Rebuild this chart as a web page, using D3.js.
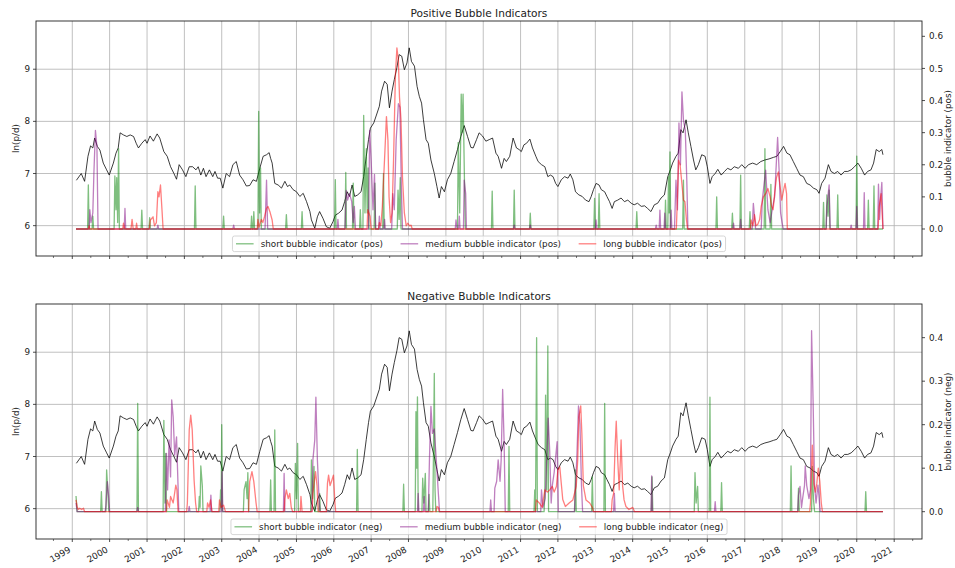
<!DOCTYPE html>
<html>
<head>
<meta charset="utf-8">
<script src="https://cdn.jsdelivr.net/npm/d3@7/dist/d3.min.js"></script>
<style>
  body { margin: 0; background: #fff; }
  text { font-family: "DejaVu Sans", sans-serif; fill: #222; }
</style>
</head>
<body>
<svg id="chart" width="955" height="568"></svg>
<script>
// ln(p/d), [decimal year, value]
var lnpd = [
  [1999.11,6.87],[1999.24,7.0],[1999.33,6.85],[1999.42,7.33],[1999.49,7.53],[1999.55,7.49],[1999.6,7.68],[1999.67,7.52],
  [1999.74,7.45],[1999.83,7.2],[1999.92,7.07],[1999.99,6.97],[2000.1,7.2],[2000.17,7.39],[2000.23,7.49],[2000.28,7.78],
  [2000.37,7.74],[2000.46,7.71],[2000.55,7.74],[2000.64,7.71],[2000.71,7.58],[2000.77,7.49],[2000.86,7.58],[2000.95,7.65],
  [2001.0,7.58],[2001.08,7.72],[2001.17,7.62],[2001.27,7.76],[2001.34,7.68],[2001.45,7.42],[2001.54,7.33],[2001.63,7.13],
  [2001.72,7.0],[2001.79,6.89],[2001.86,7.17],[2001.95,7.07],[2002.04,6.94],[2002.13,7.13],[2002.22,7.13],[2002.31,7.07],
  [2002.37,7.13],[2002.44,6.97],[2002.51,7.1],[2002.58,6.94],[2002.67,7.07],[2002.76,6.94],[2002.82,7.04],[2002.89,6.91],
  [2002.96,6.91],[2003.03,6.72],[2003.12,7.0],[2003.21,6.94],[2003.3,7.17],[2003.39,7.23],[2003.48,6.97],[2003.57,6.88],
  [2003.66,6.76],[2003.75,6.77],[2003.84,6.88],[2003.93,6.85],[2004.02,7.1],[2004.11,7.33],[2004.2,7.36],[2004.27,7.4],
  [2004.31,7.29],[2004.35,7.2],[2004.42,6.81],[2004.51,6.78],[2004.6,6.72],[2004.69,6.85],[2004.76,6.75],[2004.82,6.78],
  [2004.91,6.69],[2005.0,6.65],[2005.09,6.56],[2005.18,6.62],[2005.27,6.46],[2005.36,6.27],[2005.4,6.11],[2005.49,5.95],
  [2005.56,6.17],[2005.62,6.27],[2005.71,6.14],[2005.8,5.98],[2005.89,5.95],[2005.98,6.08],[2006.04,6.2],[2006.13,6.24],
  [2006.22,6.3],[2006.29,6.46],[2006.36,6.65],[2006.42,6.56],[2006.49,6.78],[2006.56,6.56],[2006.64,6.59],[2006.73,6.65],
  [2006.8,6.94],[2006.87,7.33],[2006.93,7.65],[2006.98,7.87],[2007.07,7.97],[2007.16,8.16],[2007.22,8.29],[2007.28,8.58],
  [2007.36,8.77],[2007.43,8.71],[2007.49,8.26],[2007.56,8.58],[2007.62,8.8],[2007.69,9.03],[2007.75,9.28],[2007.82,9.25],
  [2007.89,8.99],[2007.96,9.12],[2008.02,9.41],[2008.08,9.15],[2008.16,9.06],[2008.23,8.67],[2008.29,8.48],[2008.35,8.35],
  [2008.4,8.03],[2008.47,7.65],[2008.53,7.58],[2008.6,7.26],[2008.69,7.0],[2008.76,6.75],[2008.82,6.53],[2008.88,6.75],
  [2008.96,6.65],[2009.04,6.88],[2009.13,7.0],[2009.22,7.23],[2009.31,7.46],[2009.4,7.71],[2009.49,7.92],[2009.58,7.71],
  [2009.67,7.5],[2009.73,7.49],[2009.82,7.65],[2009.89,7.78],[2009.98,7.72],[2010.07,7.62],[2010.16,7.65],[2010.25,7.68],
  [2010.34,7.39],[2010.4,7.33],[2010.49,7.1],[2010.56,7.29],[2010.62,7.23],[2010.71,7.33],[2010.8,7.68],[2010.89,7.49],
  [2010.96,7.46],[2011.02,7.42],[2011.09,7.55],[2011.16,7.58],[2011.25,7.66],[2011.32,7.49],[2011.41,7.33],[2011.47,7.23],
  [2011.56,7.17],[2011.65,7.13],[2011.73,6.94],[2011.8,6.97],[2011.87,6.94],[2011.94,6.81],[2012.0,6.75],[2012.09,6.88],
  [2012.18,6.94],[2012.27,6.91],[2012.33,6.99],[2012.4,6.88],[2012.47,6.65],[2012.56,6.59],[2012.65,6.56],[2012.74,6.49],
  [2012.83,6.46],[2012.89,6.56],[2012.95,6.69],[2013.02,6.81],[2013.1,6.78],[2013.16,6.69],[2013.25,6.65],[2013.31,6.56],
  [2013.38,6.46],[2013.45,6.33],[2013.51,6.46],[2013.6,6.49],[2013.69,6.53],[2013.78,6.46],[2013.87,6.49],[2013.96,6.43],
  [2014.04,6.4],[2014.13,6.43],[2014.23,6.37],[2014.32,6.38],[2014.4,6.33],[2014.49,6.27],[2014.58,6.4],[2014.67,6.43],
  [2014.76,6.53],[2014.85,6.59],[2014.94,6.94],[2015.01,7.07],[2015.07,7.2],[2015.16,7.33],[2015.22,7.39],[2015.29,7.84],
  [2015.35,7.78],[2015.43,8.03],[2015.49,7.78],[2015.56,7.52],[2015.63,7.26],[2015.69,7.07],[2015.76,7.17],[2015.85,7.36],
  [2015.94,7.33],[2016.0,7.13],[2016.07,6.81],[2016.13,6.94],[2016.21,7.0],[2016.28,7.08],[2016.37,6.97],[2016.46,7.04],
  [2016.54,7.1],[2016.63,7.07],[2016.72,7.13],[2016.83,7.1],[2016.92,7.17],[2017.01,7.1],[2017.1,7.17],[2017.21,7.2],
  [2017.32,7.17],[2017.43,7.23],[2017.54,7.26],[2017.65,7.28],[2017.77,7.31],[2017.86,7.33],[2017.95,7.42],[2018.04,7.52],
  [2018.13,7.39],[2018.21,7.36],[2018.3,7.23],[2018.39,7.1],[2018.48,6.97],[2018.57,6.94],[2018.66,6.81],[2018.75,6.78],
  [2018.84,6.72],[2018.93,6.69],[2018.99,6.62],[2019.06,6.81],[2019.15,6.91],[2019.24,7.17],[2019.31,7.04],[2019.4,7.0],
  [2019.49,7.04],[2019.58,6.97],[2019.67,7.04],[2019.76,7.04],[2019.85,7.07],[2019.94,7.13],[2020.03,7.2],[2020.12,7.1],
  [2020.21,6.97],[2020.29,7.04],[2020.38,7.07],[2020.45,7.2],[2020.52,7.46],[2020.6,7.42],[2020.67,7.46],[2020.7,7.36]
]

// positive bubble indicators
var posShort = [
  [1999.1,0],[1999.41,0],[1999.43,0.137],[1999.45,0],[1999.53,0],[1999.55,0.04],[1999.57,0],
  [2000.12,0],[2000.14,0.165],[2000.17,0.06],[2000.19,0.16],[2000.215,0.02],[2000.24,0.25],[2000.26,0],
  [2000.84,0],[2000.86,0.059],[2000.88,0],[2001.05,0],[2001.07,0.035],[2001.09,0],
  [2002.27,0],[2002.29,0.134],[2002.31,0],[2003.03,0],[2003.05,0.04],[2003.07,0],
  [2003.78,0],[2003.8,0.04],[2003.82,0],[2003.84,0],[2003.86,0.054],[2003.88,0],
  [2003.97,0],[2003.99,0.366],[2004.015,0.05],[2004.04,0.19],[2004.06,0],
  [2004.71,0],[2004.73,0.045],[2004.75,0],[2005.13,0],[2005.15,0.054],[2005.17,0],
  [2006.02,0],[2006.04,0.154],[2006.06,0],[2006.3,0],[2006.32,0.176],[2006.34,0],
  [2006.5,0],[2006.52,0.143],[2006.54,0],[2006.69,0],[2006.71,0.06],[2006.73,0],
  [2006.78,0],[2006.8,0.354],[2006.835,0.05],[2006.87,0.25],[2006.895,0.05],[2006.92,0.19],[2006.94,0],
  [2007.08,0],[2007.1,0.143],[2007.12,0],[2007.31,0],[2007.33,0.172],[2007.35,0],
  [2007.7,0],[2007.72,0.121],[2007.75,0.03],[2007.78,0.16],[2007.8,0],
  [2009.31,0],[2009.33,0.27],[2009.37,0.05],[2009.41,0.42],[2009.43,0.3],[2009.46,0.42],[2009.5,0.13],[2009.52,0],
  [2010.22,0],[2010.24,0.118],[2010.26,0],[2010.81,0],[2010.83,0.121],[2010.85,0],
  [2011.24,0],[2011.26,0.049],[2011.28,0],[2012.96,0],[2012.98,0.095],[2013.0,0],
  [2013.08,0],[2013.1,0.11],[2013.12,0],[2014.09,0],[2014.11,0.054],[2014.13,0],
  [2014.86,0],[2014.88,0.09],[2014.9,0],[2014.94,0],[2014.96,0.163],[2014.98,0.05],[2015.0,0.24],[2015.02,0],
  [2015.34,0],[2015.36,0.152],[2015.38,0],[2016.23,0],[2016.25,0.1],[2016.27,0],
  [2016.65,0],[2016.67,0.049],[2016.69,0],[2016.87,0],[2016.89,0.168],[2016.91,0],
  [2017.12,0],[2017.14,0.054],[2017.16,0],[2017.52,0],[2017.54,0.25],[2017.56,0],
  [2017.68,0],[2017.7,0.139],[2017.72,0],[2019.09,0],[2019.11,0.083],[2019.13,0],
  [2019.18,0],[2019.2,0.106],[2019.23,0.04],[2019.26,0.121],[2019.28,0],[2019.47,0],[2019.49,0.106],[2019.51,0],
  [2019.98,0],[2020.0,0.227],[2020.02,0],[2020.29,0],[2020.31,0.09],[2020.33,0],
  [2020.44,0],[2020.46,0.134],[2020.48,0],[2020.7,0]
]
var posMedium = [
  [1999.1,0],[1999.45,0],[1999.47,0.06],[1999.5,0.02],[1999.55,0.05],[1999.58,0.178],[1999.62,0.307],[1999.66,0.256],[1999.69,0],
  [2000.39,0],[2000.41,0.064],[2000.43,0],[2001.27,0],[2001.29,0.012],[2001.31,0],
  [2003.3,0],[2003.32,0.012],[2003.34,0],[2004.16,0],[2004.2,0.152],[2004.23,0],
  [2006.09,0],[2006.11,0.03],[2006.13,0],
  [2006.3,0],[2006.33,0.12],[2006.37,0.09],[2006.42,0.11],[2006.48,0.085],[2006.52,0.02],[2006.55,0.07],[2006.58,0],
  [2006.93,0],[2006.96,0.307],[2007.0,0.214],[2007.05,0.06],[2007.09,0.17],[2007.12,0],
  [2007.2,0],[2007.22,0.04],[2007.24,0],[2007.34,0],[2007.36,0.03],[2007.38,0],
  [2007.55,0],[2007.58,0.11],[2007.62,0.06],[2007.67,0.276],[2007.73,0.39],[2007.77,0.38],[2007.81,0.13],[2007.84,0],
  [2009.25,0],[2009.27,0.028],[2009.3,0],[2009.34,0],[2009.36,0.04],[2009.38,0],
  [2009.47,0],[2009.49,0.152],[2009.53,0.11],[2009.55,0],
  [2010.81,0],[2010.83,0.012],[2010.85,0],[2011.24,0],[2011.26,0.012],[2011.28,0],
  [2013.0,0],[2013.02,0.028],[2013.04,0],[2014.61,0],[2014.63,0.012],[2014.65,0],
  [2014.71,0],[2014.73,0.059],[2014.75,0],[2014.84,0],[2014.86,0.049],[2014.88,0],
  [2015.01,0],[2015.03,0.059],[2015.05,0],
  [2015.12,0],[2015.16,0.152],[2015.2,0.06],[2015.24,0.33],[2015.28,0.2],[2015.32,0.427],[2015.36,0.34],[2015.41,0.307],[2015.45,0.152],[2015.48,0],
  [2016.68,0],[2016.7,0.018],[2016.72,0],[2016.87,0],[2016.89,0.03],[2016.91,0],
  [2017.2,0],[2017.23,0.08],[2017.26,0.04],[2017.29,0],
  [2017.44,0],[2017.47,0.09],[2017.53,0.152],[2017.56,0.183],[2017.62,0.06],[2017.68,0.02],[2017.75,0.07],[2017.8,0.1],
  [2017.88,0.285],[2017.92,0.183],[2017.96,0.05],[2018.0,0.02],[2018.03,0],
  [2019.18,0],[2019.2,0.07],[2019.26,0.137],[2019.29,0],[2019.83,0],[2019.85,0.012],[2019.87,0],
  [2019.98,0],[2020.0,0.07],[2020.02,0],[2020.18,0],[2020.2,0.113],[2020.22,0],
  [2020.56,0],[2020.58,0.14],[2020.61,0.03],[2020.64,0.1],[2020.67,0.145],[2020.7,0]
]
var posLong = [
  [1999.1,0],[1999.43,0],[1999.45,0.01],[1999.47,0],[2000.35,0],[2000.37,0.018],[2000.4,0],
  [2000.57,0],[2000.6,0.03],[2000.63,0],[2000.7,0],[2000.72,0.018],[2000.74,0],
  [2001.06,0],[2001.09,0.028],[2001.16,0.038],[2001.2,0.01],[2001.25,0.02],[2001.29,0.116],[2001.32,0.1],[2001.36,0.137],[2001.4,0.06],[2001.43,0],
  [2003.95,0],[2003.97,0.03],[2004.0,0.005],[2004.06,0.03],[2004.1,0.02],[2004.15,0.04],[2004.2,0.064],[2004.24,0.07],[2004.29,0.054],[2004.35,0.028],[2004.38,0],
  [2006.89,0],[2006.91,0.06],[2006.97,0.04],[2007.0,0],
  [2007.2,0],[2007.22,0.02],[2007.26,0.01],[2007.3,0.07],[2007.37,0.245],[2007.41,0.35],[2007.45,0.276],[2007.48,0.1],[2007.52,0.02],
  [2007.56,0.05],[2007.6,0.214],[2007.65,0.478],[2007.69,0.564],[2007.73,0.525],[2007.76,0.41],[2007.8,0.34],[2007.84,0.16],
  [2007.89,0.05],[2007.94,0.01],[2007.98,0.018],[2008.03,0.01],[2008.07,0.012],[2008.1,0],
  [2015.17,0],[2015.2,0.1],[2015.23,0.214],[2015.27,0.2],[2015.31,0.152],[2015.36,0.09],[2015.4,0.085],[2015.44,0.03],[2015.47,0],
  [2017.15,0],[2017.17,0.028],[2017.22,0.01],[2017.26,0.045],[2017.3,0.01],[2017.35,0.015],[2017.4,0.03],[2017.44,0.07],[2017.5,0.1],
  [2017.56,0.11],[2017.62,0.126],[2017.68,0.1],[2017.72,0.07],[2017.76,0.06],[2017.8,0.11],[2017.85,0.16],[2017.9,0.178],
  [2017.95,0.13],[2017.99,0.09],[2018.04,0.121],[2018.08,0.142],[2018.12,0.11],[2018.14,0],
  [2020.57,0],[2020.6,0.07],[2020.65,0.11],[2020.7,0]
]

// negative bubble indicators
var negShort = [
  [1999.1,0.036],[1999.13,0],[1999.76,0],[1999.78,0.046],[1999.8,0],
  [1999.9,0],[1999.92,0.096],[1999.95,0.05],[1999.98,0],[2000.73,0],[2000.75,0.249],[2000.77,0],
  [2001.43,0],[2001.45,0.21],[2001.48,0.02],[2001.5,0.134],[2001.52,0],
  [2002.38,0],[2002.4,0.035],[2002.42,0.01],[2002.44,0.105],[2002.48,0.06],[2002.5,0],
  [2002.95,0],[2002.97,0.05],[2002.985,0.01],[2003.0,0.2],[2003.02,0],
  [2003.58,0],[2003.6,0.05],[2003.65,0.069],[2003.68,0.03],[2003.7,0.09],[2003.72,0],
  [2004.29,0],[2004.31,0.073],[2004.33,0],[2004.4,0],[2004.42,0.188],[2004.44,0],
  [2004.95,0],[2004.97,0.111],[2005.0,0.03],[2005.03,0.157],[2005.05,0],
  [2005.38,0],[2005.4,0.119],[2005.43,0.03],[2005.47,0.104],[2005.49,0],[2005.6,0],[2005.62,0.042],[2005.64,0],
  [2006.61,0],[2006.63,0.143],[2006.65,0],[2007.85,0],[2007.87,0.063],[2007.89,0],
  [2008.18,0],[2008.2,0.23],[2008.22,0.1],[2008.24,0.264],[2008.26,0],
  [2008.36,0],[2008.38,0.077],[2008.41,0.02],[2008.45,0.088],[2008.47,0],[2008.53,0],[2008.55,0.04],[2008.57,0],
  [2008.65,0],[2008.67,0.15],[2008.69,0.318],[2008.71,0.05],[2008.73,0],
  [2010.67,0],[2010.69,0.15],[2010.71,0],[2011.36,0],[2011.38,0.05],[2011.4,0],[2011.43,0.4],[2011.45,0],
  [2011.63,0],[2011.65,0.046],[2011.67,0.268],[2011.7,0.05],[2011.73,0.381],[2011.75,0],
  [2012.45,0],[2012.47,0.096],[2012.49,0],[2012.9,0],[2012.92,0.08],[2012.94,0],
  [2013.23,0],[2013.25,0.249],[2013.27,0],[2014.5,0],[2014.52,0.08],[2014.54,0],
  [2015.65,0],[2015.67,0.09],[2015.7,0.02],[2015.74,0.058],[2015.76,0],
  [2016.05,0],[2016.07,0.263],[2016.09,0],[2016.36,0],[2016.38,0.067],[2016.4,0],
  [2018.22,0],[2018.24,0.105],[2018.26,0],[2018.42,0],[2018.44,0.054],[2018.46,0],
  [2018.79,0],[2018.81,0.104],[2018.84,0.03],[2018.87,0],[2020.22,0],[2020.24,0.046],[2020.26,0],[2020.7,0]
]
var negMedium = [
  [1999.1,0.02],[1999.13,0],[1999.88,0],[1999.9,0.012],[1999.94,0.069],[1999.98,0.03],[2000.0,0],
  [2000.73,0],[2000.75,0.01],[2000.77,0],
  [2001.49,0],[2001.52,0.134],[2001.55,0.05],[2001.59,0.165],[2001.63,0.08],[2001.66,0.257],[2001.7,0.218],[2001.74,0.13],
  [2001.79,0.172],[2001.83,0.06],[2001.85,0],
  [2002.11,0],[2002.13,0.012],[2002.15,0],[2002.69,0],[2002.71,0.038],[2002.73,0],
  [2002.99,0],[2003.01,0.092],[2003.03,0],[2004.65,0],[2004.67,0.088],[2004.69,0],
  [2005.41,0],[2005.44,0.119],[2005.49,0.165],[2005.52,0.263],[2005.56,0.12],[2005.6,0.04],[2005.63,0],
  [2008.24,0],[2008.26,0.042],[2008.28,0],[2008.4,0],[2008.42,0.035],[2008.44,0],
  [2008.53,0],[2008.56,0.119],[2008.6,0.242],[2008.64,0.18],[2008.69,0.19],[2008.76,0.096],[2008.8,0.04],[2008.83,0],
  [2010.18,0],[2010.2,0.027],[2010.22,0],
  [2010.29,0],[2010.31,0.054],[2010.36,0.07],[2010.4,0.119],[2010.45,0.07],[2010.48,0.119],[2010.52,0.281],[2010.56,0.157],[2010.59,0],
  [2011.54,0],[2011.56,0.05],[2011.6,0.01],[2011.66,0.03],[2011.7,0.12],[2011.74,0.215],[2011.78,0.14],[2011.82,0.02],
  [2011.85,0.06],[2011.9,0.09],[2011.98,0.161],[2012.01,0],
  [2012.44,0],[2012.47,0.058],[2012.51,0.134],[2012.55,0.243],[2012.59,0.2],[2012.63,0.06],[2012.66,0],
  [2013.49,0],[2013.51,0.042],[2013.53,0],[2014.49,0],[2014.51,0.082],[2014.53,0],
  [2016.19,0],[2016.21,0.023],[2016.23,0],
  [2018.42,0],[2018.44,0.038],[2018.48,0.058],[2018.52,0.01],[2018.55,0.03],[2018.6,0.06],[2018.62,0.105],[2018.66,0.06],
  [2018.72,0.03],[2018.76,0.05],[2018.79,0.416],[2018.83,0.257],[2018.87,0.06],[2018.91,0.02],[2018.96,0.061],[2018.99,0.035],[2019.02,0],
  [2020.7,0]
]
var negLong = [
  [1999.1,0.027],[1999.13,0.012],[1999.16,0.005],[1999.2,0.008],[1999.25,0.005],[1999.3,0.008],[1999.33,0],
  [2001.52,0],[2001.54,0.027],[2001.6,0.01],[2001.63,0.035],[2001.7,0.02],[2001.77,0.061],[2001.8,0.05],[2001.83,0],
  [2002.06,0],[2002.08,0.02],[2002.13,0.188],[2002.17,0.222],[2002.21,0.188],[2002.26,0.073],[2002.3,0.02],[2002.33,0],
  [2002.6,0],[2002.62,0.02],[2002.66,0.01],[2002.7,0.027],[2002.74,0],
  [2002.92,0],[2002.94,0.027],[2002.98,0.01],[2003.05,0.015],[2003.1,0],
  [2003.72,0],[2003.75,0.069],[2003.81,0.092],[2003.86,0.069],[2003.92,0.02],[2003.95,0],
  [2004.67,0],[2004.69,0.03],[2004.73,0.05],[2004.78,0.03],[2004.82,0.042],[2004.86,0.01],[2004.9,0],
  [2005.1,0],[2005.12,0.035],[2005.15,0],[2005.42,0],[2005.44,0.042],[2005.51,0.092],[2005.55,0.06],[2005.58,0],
  [2005.8,0],[2005.83,0.065],[2005.86,0.084],[2005.9,0.06],[2005.95,0.073],[2005.99,0.084],[2006.03,0.02],[2006.05,0],
  [2008.74,0],[2008.76,0.012],[2008.8,0.01],[2008.82,0],
  [2011.4,0],[2011.42,0.027],[2011.5,0.02],[2011.58,0.01],[2011.65,0.05],[2011.72,0.045],[2011.78,0.05],[2011.85,0.058],
  [2011.9,0.045],[2011.96,0.058],[2012.0,0.096],[2012.05,0.103],[2012.09,0.065],[2012.13,0.028],[2012.2,0.012],[2012.3,0.02],
  [2012.4,0.027],[2012.49,0.058],[2012.53,0.12],[2012.56,0.218],[2012.61,0.243],[2012.64,0.18],[2012.68,0.06],[2012.75,0.027],
  [2012.85,0.02],[2012.92,0.01],[2012.95,0],
  [2013.43,0],[2013.45,0.027],[2013.49,0.042],[2013.53,0.15],[2013.56,0.208],[2013.6,0.12],[2013.64,0.05],[2013.69,0.165],
  [2013.73,0.06],[2013.77,0.027],[2013.82,0.012],[2013.9,0.005],[2014.0,0.01],[2014.05,0],
  [2018.74,0],[2018.76,0.02],[2018.78,0.073],[2018.81,0.153],[2018.85,0.065],[2018.89,0.045],[2018.93,0.065],[2018.97,0.1],
  [2019.01,0.07],[2019.05,0.02],[2019.08,0],[2020.7,0]
]

var years = d3.range(1999, 2022)
var minorYears = d3.range(1998, 2022)
var leftTicks = [6, 7, 8, 9]
var posTicks = [0, 0.1, 0.2, 0.3, 0.4, 0.5, 0.6]
var negTicks = [0, 0.1, 0.2, 0.3, 0.4]

//decimal year -> Date
function dec2date(y) {
    var yr = Math.floor(y)
    var a = new Date(yr, 0, 1), b = new Date(yr + 1, 0, 1)
    return new Date(+a + (y - yr) * (b - a))
}

var svg = d3.select("#chart")
var fs = 8.8

//shared x scale
var x = d3.scaleTime()
          .domain([dec2date(1998.028), dec2date(2021.745)])
          .range([36, 922])

function drawPanel(cfg) {
    var top = cfg.top, bottom = cfg.top + 235
    var left = 36, right = 922
    var yL = d3.scaleLinear().domain([5.418, 9.925]).range([bottom, top])
    var yR = d3.scaleLinear().domain(cfg.rDomain).range([bottom, top])
    var g = svg.append("g")

    var clipId = "clip" + cfg.id
    g.append("clipPath").attr("id", clipId)
     .append("rect").attr("x", left).attr("y", top).attr("width", right - left).attr("height", bottom - top)

    //grid
    g.selectAll(".vg").data(years).enter().append("line")
     .attr("x1", d => x(new Date(d, 0, 1))).attr("x2", d => x(new Date(d, 0, 1)))
     .attr("y1", top).attr("y2", bottom)
     .attr("stroke", "#b0b0b0").attr("stroke-width", 0.8)
    g.selectAll(".hg").data(leftTicks).enter().append("line")
     .attr("x1", left).attr("x2", right)
     .attr("y1", d => yL(d)).attr("y2", d => yL(d))
     .attr("stroke", "#b0b0b0").attr("stroke-width", 0.8)

    var plot = g.append("g").attr("clip-path", "url(#" + clipId + ")")

    //ln(p/d)
    var lineL = d3.line().x(d => x(dec2date(d[0]))).y(d => yL(d[1]))
    plot.append("path").datum(lnpd)
        .attr("d", lineL).attr("fill", "none")
        .attr("stroke", "#000").attr("stroke-opacity", 0.85).attr("stroke-width", 0.9)

    //indicators
    var lineR = d3.line().x(d => x(dec2date(d[0]))).y(d => yR(d[1]))
    cfg.series.forEach(s => {
        plot.append("path").datum(s.data)
            .attr("d", lineR).attr("fill", "none")
            .attr("stroke", s.color).attr("stroke-opacity", 0.5).attr("stroke-width", 1.3)
            .attr("stroke-linejoin", "round")
    })

    //spines
    g.append("rect").attr("x", left).attr("y", top).attr("width", right - left).attr("height", bottom - top)
     .attr("fill", "none").attr("stroke", "#222").attr("stroke-width", 0.9)

    //x ticks
    g.selectAll(".xt").data(years).enter().append("line")
     .attr("x1", d => x(new Date(d, 0, 1))).attr("x2", d => x(new Date(d, 0, 1)))
     .attr("y1", bottom).attr("y2", bottom + 3)
     .attr("stroke", "#222").attr("stroke-width", 0.8)
    g.selectAll(".xm").data(minorYears).enter().append("line")
     .attr("x1", d => x(new Date(d, 6, 1))).attr("x2", d => x(new Date(d, 6, 1)))
     .attr("y1", bottom).attr("y2", bottom + 2)
     .attr("stroke", "#222").attr("stroke-width", 0.6)
    if (cfg.xLabels) {
        g.selectAll(".xl").data(years).enter().append("text")
         .attr("transform", d => "translate(" + (x(new Date(d, 0, 1)) - 1) + "," + (bottom + 12.5) + ") rotate(-30)")
         .attr("text-anchor", "end").attr("font-size", fs)
         .text(d => d)
    }

    //left axis
    leftTicks.forEach(v => {
        g.append("line").attr("x1", left - 3).attr("x2", left).attr("y1", yL(v)).attr("y2", yL(v))
         .attr("stroke", "#222").attr("stroke-width", 0.8)
        g.append("text").attr("x", left - 6).attr("y", yL(v)).attr("dy", "0.35em")
         .attr("text-anchor", "end").attr("font-size", fs).text(v)
    })
    g.append("text")
     .attr("transform", "translate(19," + (top + bottom) / 2 + ") rotate(-90)")
     .attr("text-anchor", "middle").attr("font-size", fs).text("ln(p/d)")

    //right axis
    cfg.rTicks.forEach(v => {
        g.append("line").attr("x1", right).attr("x2", right + 3).attr("y1", yR(v)).attr("y2", yR(v))
         .attr("stroke", "#222").attr("stroke-width", 0.8)
        g.append("text").attr("x", right + 7).attr("y", yR(v)).attr("dy", "0.35em")
         .attr("text-anchor", "start").attr("font-size", fs).text(d3.format(".1f")(v))
    })
    g.append("text")
     .attr("transform", "translate(951," + (top + bottom) / 2 + ") rotate(-90)")
     .attr("text-anchor", "middle").attr("font-size", fs).text(cfg.rLabel)

    //title
    g.append("text").attr("x", (left + right) / 2).attr("y", top - 4.5)
     .attr("text-anchor", "middle").attr("font-size", 10.6).attr("fill", "#111").text(cfg.title)

    //legend (lower center, 3 columns)
    var leg = g.append("g")
    var box = leg.append("rect")
    var hl = 2 * fs, pad = 0.8 * fs, colsp = 2 * fs, bp = 0.4 * fs
    var items = []
    cfg.series.forEach(s => {
        var t = leg.append("text").attr("font-size", fs).text(s.label)
        items.push({t: t, w: t.node().getComputedTextLength(), s: s})
    })
    var total = 2 * bp + d3.sum(items, d => d.w + hl + pad) + colsp * (items.length - 1)
    var lh = 15.6
    var by = bottom - 4.4 - lh
    var bx = (left + right) / 2 - total / 2
    box.attr("x", bx).attr("y", by).attr("width", total).attr("height", lh).attr("rx", 2)
       .attr("fill", "#fff").attr("fill-opacity", 0.8).attr("stroke", "#cccccc").attr("stroke-width", 0.8)
    var cur = bx + bp
    items.forEach(it => {
        leg.append("line").attr("x1", cur).attr("x2", cur + hl)
           .attr("y1", by + lh / 2).attr("y2", by + lh / 2)
           .attr("stroke", it.s.color).attr("stroke-opacity", 0.5).attr("stroke-width", 1.3)
        it.t.attr("x", cur + hl + pad).attr("y", by + lh / 2).attr("dy", "0.35em")
        cur += hl + pad + it.w + colsp
    })
}

drawPanel({
    id: 1, top: 21, title: "Positive Bubble Indicators",
    rDomain: [-0.0841, 0.6477], rTicks: posTicks, rLabel: "bubble indicator (pos)", xLabels: false,
    series: [
        {data: posShort, color: "#008000", label: "short bubble indicator (pos)"},
        {data: posMedium, color: "#800080", label: "medium bubble indicator (pos)"},
        {data: posLong, color: "#ff0000", label: "long bubble indicator (pos)"}
    ]
})
drawPanel({
    id: 2, top: 304, title: "Negative Bubble Indicators",
    rDomain: [-0.0628, 0.4774], rTicks: negTicks, rLabel: "bubble indicator (neg)", xLabels: true,
    series: [
        {data: negShort, color: "#008000", label: "short bubble indicator (neg)"},
        {data: negMedium, color: "#800080", label: "medium bubble indicator (neg)"},
        {data: negLong, color: "#ff0000", label: "long bubble indicator (neg)"}
    ]
})
</script>
</body>
</html>
